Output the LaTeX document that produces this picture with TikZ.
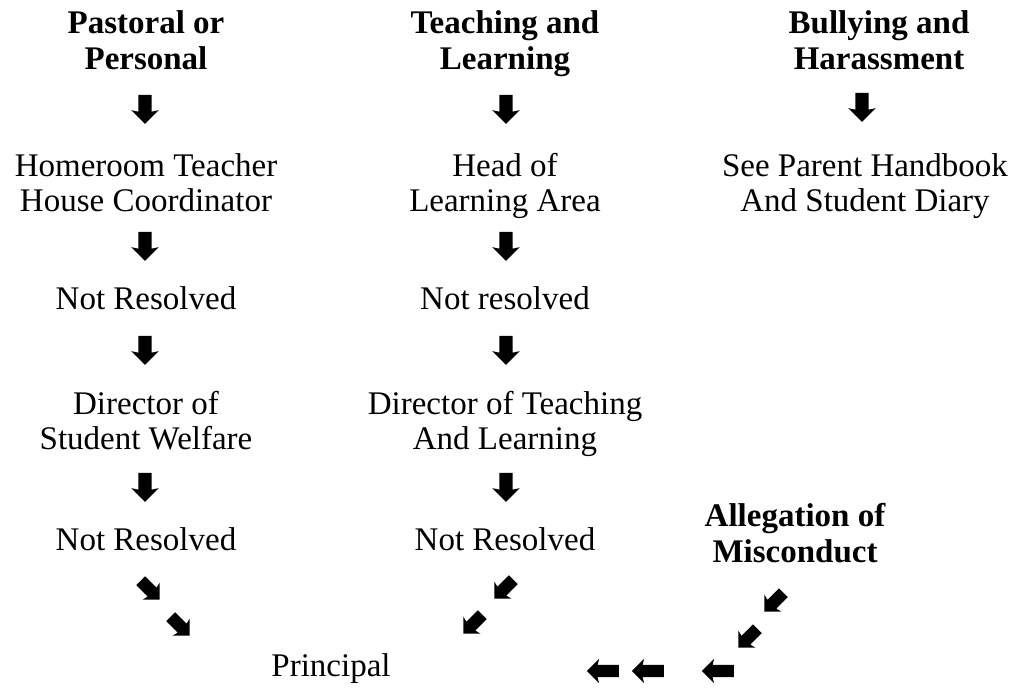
\documentclass[tikz,border=0pt]{standalone}
\usepackage{fontspec}
\setmainfont{Liberation Serif}
\usetikzlibrary{shapes.arrows}

\tikzset{
  lbl/.style={align=center, inner sep=0pt, anchor=north, font=\fontsize{33}{34.5}\selectfont},
  head/.style={lbl, font=\fontsize{33}{36}\selectfont\bfseries},
  % block-arrow glyphs (drawn pointing right, then turned)
  blk/.style={single arrow, fill=black, draw=none, inner xsep=0pt, inner ysep=6.5pt,
              single arrow head extend=7pt, single arrow head indent=1.5pt, minimum height=29pt},
  diag/.style={blk, inner ysep=6pt, single arrow head extend=6pt, minimum height=27pt},
  side/.style={blk, inner ysep=6pt, single arrow head extend=6pt, minimum height=32pt},
  down/.style={rotate=-90},
  downright/.style={rotate=-45},
  downleft/.style={rotate=-135},
  left/.style={rotate=180},
}

\begin{document}
\begin{tikzpicture}[x=1pt, y=-1pt]
\useasboundingbox (0,0) rectangle (1016,690);

% column headings
\node[head] (h1) at (146,10) {Pastoral or\\Personal};
\node[head] (h2) at (505,10) {Teaching and\\Learning};
\node[head] (h3) at (879,10) {Bullying and\\Harassment};

% pastoral column
\node[lbl] (p1) at (146,153.5) {Homeroom Teacher\\House Coordinator};
\node[lbl] (p2) at (146,286) {Not Resolved};
\node[lbl] (p3) at (146,391.5) {Director of\\Student Welfare};
\node[lbl] (p4) at (146,527) {Not Resolved};

% teaching column
\node[lbl] (t1) at (505,153.5) {Head of\\Learning Area};
\node[lbl] (t2) at (505,286) {Not resolved};
\node[lbl] (t3) at (505,391.5) {Director of Teaching\\And Learning};
\node[lbl] (t4) at (505,527) {Not Resolved};

% bullying column
\node[lbl] (b1) at (865,153.5) {See Parent Handbook\\And Student Diary};

% misconduct
\node[head] (m1) at (795,503) {Allegation of\\Misconduct};

% final step
\node[lbl] (pr) at (331,653) {Principal};

% down arrows
\node[blk,down] (ap0) at (145,106) {};
\node[blk,down] (ap1) at (145,243) {};
\node[blk,down] (ap2) at (145,347) {};
\node[blk,down] (ap3) at (145,484) {};
\node[blk,down] (at0) at (506,106) {};
\node[blk,down] (at1) at (506,243) {};
\node[blk,down] (at2) at (506,347) {};
\node[blk,down] (at3) at (506,484) {};
\node[blk,down] (ab0) at (862,104) {};

% converging arrows
\node[diag,downright] (dp1) at (148,588) {};
\node[diag,downright] (dp2) at (178,624) {};
\node[diag,downleft] (dt1) at (506,587) {};
\node[diag,downleft] (dt2) at (475,622) {};
\node[diag,downleft] (dm1) at (776,600) {};
\node[diag,downleft] (dm2) at (750,636) {};
\node[side,left] (lm1) at (721,671) {};
\node[side,left] (lm2) at (651,671) {};
\node[side,left] (lm3) at (606,671) {};
\end{tikzpicture}
\end{document}
